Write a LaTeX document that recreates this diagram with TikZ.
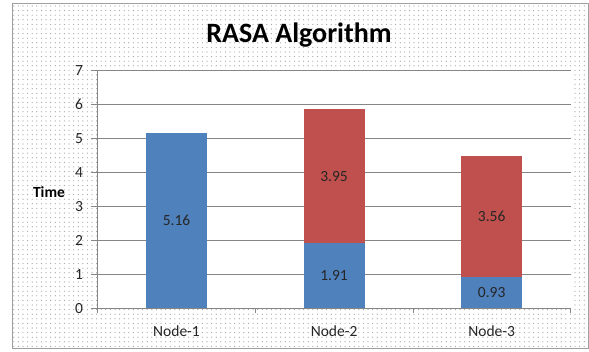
\documentclass[tikz,border=0pt]{standalone}
\usepackage{fontspec}
\setmainfont{Carlito}
\usepackage{tikz}
\usetikzlibrary{patterns.meta}

\definecolor{barblue}{HTML}{4F81BD}
\definecolor{barred}{HTML}{C0504D}
\definecolor{gridgray}{HTML}{868686}

\begin{document}
\begin{tikzpicture}[x=1pt, y=1pt,
  frame/.style={draw=gray!75, line width=0.9pt, fill=white,
                postaction={pattern={Dots[distance=4.6pt, radius=0.6pt]},
                            pattern color=gray!75}},
  gridline/.style={draw=gridgray, line width=0.8pt},
  blueseg/.style={fill=barblue},
  redseg/.style={fill=barred},
  ticklbl/.style={font=\fontsize{15.5}{18}\selectfont, text=black!85, inner sep=0pt},
  catlbl/.style={font=\fontsize{15.5}{18}\selectfont, text=black!85, inner sep=0pt},
  val/.style={font=\fontsize{15.5}{18}\selectfont, text=black!85, inner sep=0pt},
  axtitle/.style={font=\fontsize{15.5}{18}\selectfont\bfseries, inner sep=0pt},
  charttitle/.style={font=\fontsize{28}{32}\selectfont\bfseries, inner sep=0pt},
]
\useasboundingbox (0,0) rectangle (589,351);

% --- Chart area ---
\path[frame] (12,3) rectangle (588,348);
\node[charttitle, anchor=base] (title) at (299,308) {RASA Algorithm};
\node[axtitle] (ytitle) at (49,159.3) {Time};

% --- Plot area ---
\begin{scope}[shift={(97.7,42.7)}, y=33.94pt]
  \fill[white] (0,0) rectangle (472.8,7);
  \foreach \v in {1,...,7}
    \draw[gridline] (0,\v) -- (472.8,\v);
  \foreach \v in {0,...,7} {
    \draw[gridline] (-6.5,\v) -- (0,\v);
    \node[ticklbl, anchor=east] (tick\v) at (-14.5,\v) {\v};
  }

  % --- Bars ---
  \fill[blueseg] (48.3,0) rectangle (109.3,5.16);
  \fill[blueseg] (205.9,0) rectangle (266.9,1.91);
  \fill[redseg] (205.9,1.91) rectangle (266.9,5.86);
  \fill[blueseg] (363.5,0) rectangle (424.5,0.93);
  \fill[redseg] (363.5,0.93) rectangle (424.5,4.49);

  % --- Axes ---
  \draw[gridline] (0,7) -- (0,0) -- (472.8,0);
  \foreach \k in {0,...,3}
    \draw[gridline] (\k*157.6,0) -- ++(0,-4.5pt);

  % --- Value labels ---
  \node[val] (v1) at (78.8,2.58) {5.16};
  \node[val] (v2a) at (236.4,0.955) {1.91};
  \node[val] (v2b) at (236.4,3.885) {3.95};
  \node[val] (v3a) at (394.0,0.465) {0.93};
  \node[val] (v3b) at (394.0,2.71) {3.56};

  % --- Category labels ---
  \node[catlbl, anchor=north] (cat1) at ([yshift=-17.5pt]78.8,0) {Node-1};
  \node[catlbl, anchor=north] (cat2) at ([yshift=-17.5pt]236.4,0) {Node-2};
  \node[catlbl, anchor=north] (cat3) at ([yshift=-17.5pt]394.0,0) {Node-3};
\end{scope}
\end{tikzpicture}
\end{document}
